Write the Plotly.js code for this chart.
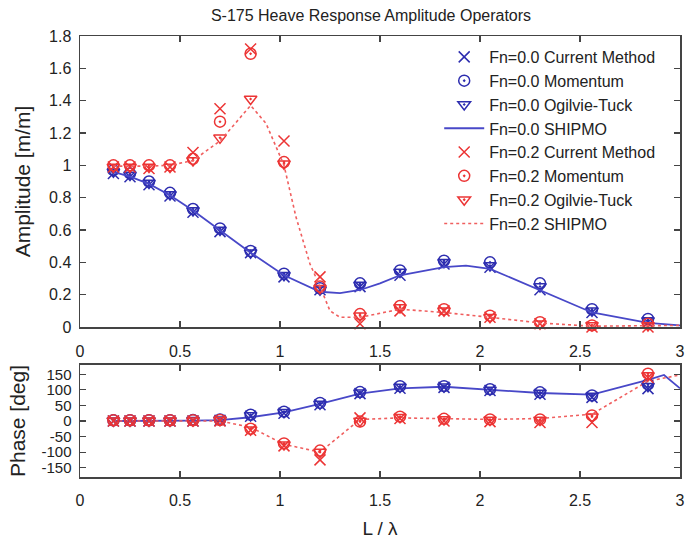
<!DOCTYPE html>
<html>
<head>
<meta charset="utf-8">
<script src="https://cdn.plot.ly/plotly-3.0.1.min.js"></script>
<style>html,body{margin:0;padding:0;background:#fff;}#chart{width:685px;height:541px;}</style>
</head>
<body>
<div id="chart"></div>
<script>
// L/lambda positions of the computed / measured points
const xPts = [0.167, 0.25, 0.345, 0.45, 0.565, 0.70, 0.853, 1.02, 1.20, 1.40, 1.60, 1.82, 2.05, 2.30, 2.56, 2.84];

// Heave amplitude, Fn = 0.0
const amp00Current  = [0.95, 0.93, 0.88, 0.81, 0.71, 0.59, 0.46, 0.31, 0.23, 0.25, 0.32, 0.39, 0.37, 0.23, 0.09, 0.03];
const amp00Momentum = [0.97, 0.95, 0.90, 0.83, 0.73, 0.61, 0.47, 0.33, 0.24, 0.27, 0.35, 0.41, 0.40, 0.27, 0.11, 0.05];
const amp00Ogilvie  = [0.96, 0.94, 0.89, 0.82, 0.72, 0.60, 0.46, 0.32, 0.23, 0.26, 0.34, 0.40, 0.38, 0.25, 0.10, 0.04];
const shipmo00AmpX  = [0.167, 0.25, 0.345, 0.45, 0.565, 0.70, 0.853, 1.02, 1.20, 1.30, 1.40, 1.50, 1.60, 1.82, 1.93, 2.05, 2.30, 2.56, 2.84, 3.0];
const shipmo00Amp   = [0.96, 0.93, 0.885, 0.815, 0.72, 0.60, 0.46, 0.32, 0.218, 0.21, 0.229, 0.27, 0.32, 0.37, 0.38, 0.36, 0.23, 0.09, 0.025, 0.01];

// Heave amplitude, Fn = 0.2
const amp02Current  = [0.99, 0.99, 0.98, 0.99, 1.08, 1.35, 1.72, 1.15, 0.31, 0.02, 0.10, 0.10, 0.06, 0.02, 0.00, 0.00];
const amp02Momentum = [1.00, 1.00, 1.00, 1.00, 1.04, 1.27, 1.69, 1.02, 0.25, 0.08, 0.13, 0.11, 0.07, 0.03, 0.01, 0.02];
const amp02Ogilvie  = [0.99, 0.99, 0.99, 0.99, 1.03, 1.17, 1.41, 1.01, 0.24, 0.07, 0.12, 0.10, 0.06, 0.02, 0.01, 0.01];
const shipmo02AmpX  = [0.167, 0.25, 0.345, 0.45, 0.565, 0.70, 0.853, 0.93, 1.02, 1.08, 1.15, 1.20, 1.25, 1.30, 1.40, 1.60, 1.82, 2.05, 2.30, 2.56, 2.84, 3.0];
const shipmo02Amp   = [0.995, 0.995, 0.995, 1.0, 1.03, 1.15, 1.37, 1.26, 1.0, 0.68, 0.39, 0.25, 0.10, 0.06, 0.06, 0.11, 0.09, 0.06, 0.025, 0.005, 0.01, 0.01];

// Heave phase [deg], Fn = 0.0
const ph00Current  = [0, 0, 0, 0, 0, 2, 15, 25, 52, 88, 105, 108, 98, 86, 76, 104];
const ph00Momentum = [2, 2, 2, 2, 3, 5, 20, 30, 58, 93, 112, 112, 102, 92, 82, 118];
const ph00Ogilvie  = [1, 1, 1, 1, 2, 4, 18, 28, 55, 91, 109, 110, 100, 90, 80, 112];
const shipmo00PhX  = [0.167, 0.25, 0.345, 0.45, 0.565, 0.70, 0.853, 1.02, 1.20, 1.40, 1.60, 1.82, 2.05, 2.30, 2.56, 2.84, 2.92, 3.0];
const shipmo00Ph   = [0, 0, 0, 0, 1, 3, 12, 28, 55, 88, 105, 110, 100, 90, 85, 132, 148, 105];

// Heave phase [deg], Fn = 0.2
const ph02Current  = [0, 0, 0, 0, 0, 0, -30, -80, -125, 10, 8, 0, -2, -5, -5, 140];
const ph02Momentum = [2, 2, 2, 2, 2, 3, -25, -72, -95, -2, 14, 7, 5, 5, 18, 152];
const ph02Ogilvie  = [1, 1, 1, 1, 1, 2, -28, -76, -100, 0, 12, 5, 3, 3, 14, 146];
const shipmo02PhX  = [0.167, 0.25, 0.345, 0.45, 0.565, 0.70, 0.853, 1.02, 1.20, 1.40, 1.60, 1.82, 2.05, 2.30, 2.56, 2.84, 3.0];
const shipmo02Ph   = [0, 0, 0, 0, 0, 0, -20, -75, -100, 5, 10, 8, 5, 8, 22, 128, 148];

const xTicks = [0, 0.5, 1, 1.5, 2, 2.5, 3];
const xTickText = ['0', '0.5', '1', '1.5', '2', '2.5', '3'];
const ampTicks = [0, 0.2, 0.4, 0.6, 0.8, 1, 1.2, 1.4, 1.6, 1.8];
const ampTickText = ['0', '0.2', '0.4', '0.6', '0.8', '1', '1.2', '1.4', '1.6', '1.8'];
const phTicks = [-150, -100, -50, 0, 50, 100, 150];
const phTickText = ['-150', '-100', '-50', '0', '50', '100', '150'];

const BLUE = 'rgb(45,45,175)';
const BLUE_LINE = 'rgb(72,72,200)';
const RED = 'rgb(236,52,52)';
const RED_LINE = 'rgb(240,95,95)';

function mk(x, y, name, sym, color, xa, ya, show) {
  return {
    x: x, y: y, name: name, type: 'scatter', mode: 'markers',
    xaxis: xa, yaxis: ya, showlegend: show, cliponaxis: false,
    marker: {symbol: sym, size: 11, color: color,
             line: {color: color, width: 1.5}}
  };
}
function ln(x, y, name, color, dash, xa, ya, show) {
  return {
    x: x, y: y, name: name, type: 'scatter', mode: 'lines',
    xaxis: xa, yaxis: ya, showlegend: show,
    line: {color: color, width: dash === 'solid' ? 1.8 : 1.6, dash: dash}
  };
}

const traces = [
  mk(xPts, amp00Current,  'Fn=0.0 Current Method', 'x-thin-open', BLUE, 'x', 'y', true),
  mk(xPts, amp00Momentum, 'Fn=0.0 Momentum', 'circle-open-dot', BLUE, 'x', 'y', true),
  mk(xPts, amp00Ogilvie,  'Fn=0.0 Ogilvie-Tuck', 'triangle-down-open-dot', BLUE, 'x', 'y', true),
  ln(shipmo00AmpX, shipmo00Amp, 'Fn=0.0 SHIPMO', BLUE_LINE, 'solid', 'x', 'y', true),
  mk(xPts, amp02Current,  'Fn=0.2 Current Method', 'x-thin-open', RED, 'x', 'y', true),
  mk(xPts, amp02Momentum, 'Fn=0.2 Momentum', 'circle-open-dot', RED, 'x', 'y', true),
  mk(xPts, amp02Ogilvie,  'Fn=0.2 Ogilvie-Tuck', 'triangle-down-open-dot', RED, 'x', 'y', true),
  ln(shipmo02AmpX, shipmo02Amp, 'Fn=0.2 SHIPMO', RED_LINE, 'dot', 'x', 'y', true),

  ln(shipmo00PhX, shipmo00Ph, 'Fn=0.0 SHIPMO', BLUE_LINE, 'solid', 'x2', 'y2', false),
  ln(shipmo02PhX, shipmo02Ph, 'Fn=0.2 SHIPMO', RED_LINE, 'dot', 'x2', 'y2', false),
  mk(xPts, ph00Current,  'Fn=0.0 Current Method', 'x-thin-open', BLUE, 'x2', 'y2', false),
  mk(xPts, ph00Momentum, 'Fn=0.0 Momentum', 'circle-open-dot', BLUE, 'x2', 'y2', false),
  mk(xPts, ph00Ogilvie,  'Fn=0.0 Ogilvie-Tuck', 'triangle-down-open-dot', BLUE, 'x2', 'y2', false),
  mk(xPts, ph02Current,  'Fn=0.2 Current Method', 'x-thin-open', RED, 'x2', 'y2', false),
  mk(xPts, ph02Momentum, 'Fn=0.2 Momentum', 'circle-open-dot', RED, 'x2', 'y2', false),
  mk(xPts, ph02Ogilvie,  'Fn=0.2 Ogilvie-Tuck', 'triangle-down-open-dot', RED, 'x2', 'y2', false)
];

const axisCommon = {
  showline: true, linecolor: '#444', linewidth: 1.5, mirror: 'ticks',
  ticks: 'inside', ticklen: 6, tickwidth: 1.2, tickcolor: '#444',
  showgrid: false, zeroline: false,
  tickfont: {family: 'Liberation Sans, Arial, sans-serif', size: 16, color: '#222'}
};

const layout = {
  width: 685, height: 541,
  paper_bgcolor: '#fff', plot_bgcolor: '#fff',
  margin: {l: 80, r: 5, t: 36, b: 64},
  font: {family: 'Liberation Sans, Arial, sans-serif', size: 16, color: '#222'},
  title: {
    text: 'S-175 Heave Response Amplitude Operators',
    font: {family: 'Liberation Sans, Arial, sans-serif', size: 16, color: '#222'},
    xref: 'container', yref: 'container', x: 0.5416, y: 0.972, xanchor: 'center', yanchor: 'middle'
  },
  xaxis: Object.assign({}, axisCommon, {
    domain: [0, 1], anchor: 'y', range: [0, 3], tickmode: 'array',
    tickvals: xTicks, ticktext: xTickText, ticklabelstandoff: 9
  }),
  yaxis: Object.assign({}, axisCommon, {
    domain: [0.3401, 1], anchor: 'x', range: [0, 1.8], tickmode: 'array',
    tickvals: ampTicks, ticktext: ampTickText, ticklabelstandoff: 4,
    title: {text: 'Amplitude [m/m]', font: {size: 21}, standoff: 12}
  }),
  xaxis2: Object.assign({}, axisCommon, {
    domain: [0, 1], anchor: 'y2', range: [0, 3], tickmode: 'array',
    tickvals: xTicks, ticktext: xTickText, ticklabelstandoff: 8,
    title: {text: 'L / λ', font: {size: 19}, standoff: 14}
  }),
  yaxis2: Object.assign({}, axisCommon, {
    domain: [0, 0.254], anchor: 'x2', range: [-180, 180], tickmode: 'array',
    tickvals: phTicks, ticktext: phTickText, ticklabelstandoff: 4,
    tickfont: {family: 'Liberation Sans, Arial, sans-serif', size: 15, color: '#222'},
    title: {text: 'Phase [deg]', font: {size: 21}, standoff: 10}
  }),
  showlegend: true,
  legend: {
    x: 0.967, xanchor: 'right', y: 0.991, yanchor: 'top',
    bgcolor: 'rgba(0,0,0,0)', borderwidth: 0,
    font: {family: 'Liberation Sans, Arial, sans-serif', size: 16, color: '#222'},
    tracegroupgap: 0, itemwidth: 40
  }
};

Plotly.newPlot('chart', traces, layout, {displayModeBar: false, staticPlot: true});
</script>
</body>
</html>
